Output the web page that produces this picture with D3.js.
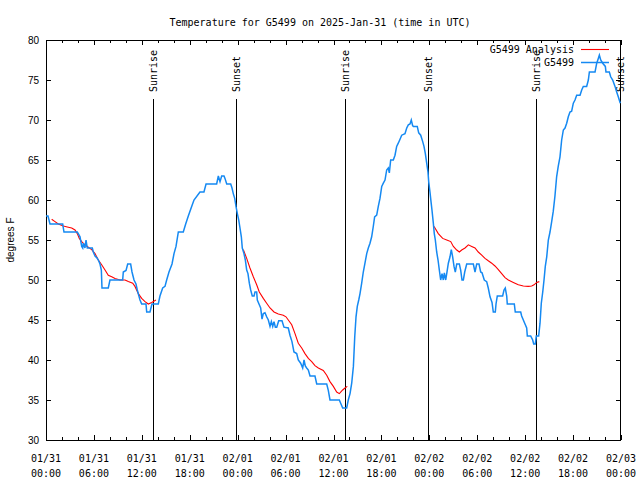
<!DOCTYPE html>
<html><head><meta charset="utf-8">
<script src="https://cdn.jsdelivr.net/npm/d3@7"></script>
<style>body{margin:0;background:#fff}svg{display:block}</style>
</head><body>
<script>
const title = "Temperature for G5499 on 2025-Jan-31 (time in UTC)";
const yLabel = "degrees F";
const startDate = Date.UTC(2025, 0, 31);
const endDate = Date.UTC(2025, 1, 3);
const yTicks = [30, 35, 40, 45, 50, 55, 60, 65, 70, 75, 80];
const seriesNames = ["G5499 Analysis", "G5499"];
// sun events, hours after 2025-01-31 00:00 UTC
const sunriseHours = [13.44, 37.44, 61.36];
const sunsetHours = [23.79, 47.83, 71.85];

// observed G5499 (hours after start, deg F)
const obsHours = [0,0.25,0.5,2.09,2.25,3.92,4.04,4.26,4.47,4.6,4.67,4.88,5.01,5.17,5.8,5.92,6.14,6.35,6.55,6.76,6.93,7.01,7.8,8.01,9.6,9.68,10.02,10.23,10.6,10.77,11.02,11.27,11.43,11.77,11.98,12.52,12.61,13.02,13.27,14.06,14.27,14.61,14.9,15.11,15.4,15.78,16.03,16.28,16.57,17.19,17.49,17.82,18.24,18.53,19.28,19.78,20.04,21.37,21.58,21.79,22.0,22.29,22.41,22.63,23.13,23.29,23.45,23.63,23.79,23.96,24.13,24.29,24.46,24.58,24.79,24.96,25.13,25.29,25.46,25.63,25.83,26.05,26.17,26.38,26.46,26.71,26.88,27.05,27.21,27.42,27.63,27.84,28.05,28.22,28.39,28.55,28.72,28.89,29.14,29.55,29.8,30.34,30.55,30.8,31.05,31.39,31.59,31.89,32.14,32.31,32.47,32.64,32.85,33.06,33.68,33.9,35.15,35.35,35.56,36.73,36.9,37.15,37.65,37.85,38.07,38.28,38.49,38.66,38.82,38.98,39.16,39.32,39.53,39.73,39.94,40.16,40.36,40.57,40.78,40.99,41.15,41.41,41.61,41.82,42.04,42.24,42.45,42.66,42.86,42.99,43.16,43.49,43.7,43.91,44.11,44.33,44.54,44.95,45.17,45.37,45.58,45.74,45.91,46.0,46.49,46.67,46.92,47.17,47.33,47.5,47.67,47.83,47.92,48.08,48.21,48.33,48.5,48.62,48.75,48.92,49.09,49.25,49.42,49.59,49.75,49.88,50.05,50.18,50.38,50.59,50.75,50.92,51.09,51.25,51.43,51.76,51.93,52.09,52.26,52.43,52.68,53.51,53.72,53.93,54.22,54.43,54.6,54.88,55.18,55.38,55.6,55.85,56.01,56.26,56.35,56.51,57.18,57.35,57.51,57.69,57.76,58.64,58.76,59.44,59.56,59.77,59.98,60.19,60.27,60.69,60.94,61.07,61.27,61.39,61.69,61.86,62.02,62.2,62.36,62.52,62.7,62.9,63.11,63.32,63.52,63.73,63.94,64.14,64.36,64.57,64.78,64.99,65.2,65.4,65.61,65.82,66.03,66.24,66.45,66.87,67.08,67.28,67.7,67.91,68.04,68.75,68.96,69.16,69.29,69.46,69.71,70.04,70.12,70.54,70.71,70.96,71.25,71.46,71.66,71.91];
const obsTemps = [58,58,57,57,56,56,55.8,55.4,54.2,54,54.6,54,55,54,54,53.5,53,52.8,52.5,52,51.25,49,49,50,50,51,51.2,52,52,51,50,49.5,48.75,47.5,47,47,46,46,47,47,48,49,49.2,50,51,52,53.3,54.2,56,56,57,58,59.2,60,61,61,62,62,63,62.3,63,63,62.7,62,62,61.5,60.8,60.2,59.2,58.3,57.5,56.5,55.4,54,53.3,52.5,51.25,50.8,49.6,48.75,48,48,48.5,48.5,47.5,46.9,46.5,45.1,45.8,45.9,45.4,45,44.2,44.8,44.2,44.8,44.1,44.1,44.9,44.9,44.1,44,43.1,42.3,41,40.8,40,39.6,39,40,39.25,39,38.75,38,38,37,37,36.2,35,35,34.6,34,34,35,35.8,37.1,39.2,42.9,45.4,46.7,47.5,48.3,49.6,51,52.1,53.3,54,54.6,55.4,56.75,57.9,58.1,59.2,60.2,61.7,62.1,62.5,63.75,64,63.4,65,65,65.6,66.7,67.1,67.6,68.1,68.3,69,69.4,69.5,70,69.3,69.2,69.2,68.4,68.1,67.3,66.7,65.8,64.6,63.5,62.3,61,59.8,58.75,57.1,55.8,55,53.5,52.5,51.25,50,50.8,50,50.9,50,50.8,52.1,52.9,53.8,52.9,51.7,51,52,52,51.2,50,50,51,52,52,51,52,52,51,50.9,50,49.8,49,47.9,47.2,46,46,47,48,48,48.75,49,48,47,47,46,46,45.5,45,44.5,44,43,43,42.5,42,42,43,43,44.6,47.1,48.5,50,51.7,52.9,55,56,57.3,58.6,60.5,62.9,64.2,65.4,67.5,68.75,69,69.6,70.4,71,71.1,72.1,72.5,73.1,73.1,73.75,74.2,74.2,75,76,76,77.1,77.7,78.1,77.5,77.1,76.7,76,76,75.4,75,74.2,73.5,72.9,72.1];

// analysis G5499 (null = gap between runs)
const anaHours = [0.71,1.13,1.54,2.17,2.79,3.22,3.63,3.92,4.17,4.47,4.88,5.30,5.72,6.14,6.55,6.97,7.39,7.80,8.23,8.64,9.27,9.89,10.31,10.86,11.14,11.56,11.98,12.40,12.81,13.24,13.77,
  null,
  24.71,25.13,25.54,25.96,26.38,26.71,27.21,27.63,28.05,28.55,29.09,29.71,30.05,30.34,30.77,31.18,31.59,32.02,32.43,32.85,33.27,33.68,34.10,34.72,35.15,35.56,35.98,36.4,36.73,37.15,37.44,37.73,
  null,
  48.62,48.71,49.12,49.67,50.18,50.68,51.01,51.43,51.76,52.05,52.47,52.89,53.31,53.72,54.13,54.56,54.97,55.38,55.81,56.22,56.64,57.06,57.48,57.89,58.52,59.14,59.77,60.39,60.82,61.11,61.44,61.77];
const anaTemps = [57.6,57.3,57,56.75,56.6,56.5,56.25,55.8,55.2,54.8,54.4,54.1,53.8,53.3,52.5,51.9,51.25,50.6,50.4,50.2,50,50,49.8,49.6,49.2,48.3,47.7,47.3,47,47.2,47.5,
  null,
  53.8,52.7,51.5,50.4,49.4,48.5,47.7,47.1,46.5,46,45.75,45.6,45.4,45,44.4,43.3,42.1,41.5,40.8,40.2,39.8,39.3,39,38.7,38.1,37.3,36.7,36,35.8,36.25,36.5,36.7,
  null,
  56.7,56.5,55.8,55.2,55,54.8,54.2,53.75,53.5,53.75,54,54.4,54.2,54,53.5,53.1,52.7,52.4,52.1,51.75,51.3,50.8,50.3,50,49.7,49.4,49.25,49.2,49.25,49.4,49.7,49.8];

const W = 640, H = 480;
const L = 46, R = 621, T = 40, B = 440;
const mono = "'DejaVu Sans Mono', monospace";
const sans = "'Liberation Sans', Arial, sans-serif";
const toDate = h => new Date(startDate + h * 3600000);

const svg = d3.select("body").append("svg").attr("width", W).attr("height", H);
const x = d3.scaleUtc().domain([new Date(startDate), new Date(endDate)]).range([L, R]);
const y = d3.scaleLinear().domain([30, 80]).range([B, T]);

// title
svg.append("text").attr("x", 320).attr("y", 26).attr("text-anchor", "middle")
  .style("font-family", mono).style("font-size", "10px").text(title);

// y label
svg.append("text").attr("transform", "translate(14,240) rotate(-90)").attr("text-anchor", "middle")
  .style("font-family", sans).style("font-size", "10px").text(yLabel);

// border
svg.append("rect").attr("x", L + 0.5).attr("y", T + 0.5).attr("width", R - L - 1).attr("height", B - T)
  .attr("fill", "none").attr("stroke", "#000").attr("stroke-width", 1).attr("shape-rendering", "crispEdges");

// y ticks (left & right, inward) and labels
const yg = svg.append("g").attr("shape-rendering", "crispEdges");
yTicks.forEach(v => {
  const yy = Math.round(y(v)) + 0.5;
  yg.append("line").attr("x1", L).attr("x2", L + 5).attr("y1", yy).attr("y2", yy).attr("stroke", "#000");
  yg.append("line").attr("x1", R - 5).attr("x2", R).attr("y1", yy).attr("y2", yy).attr("stroke", "#000");
  svg.append("text").attr("x", 39).attr("y", y(v) + 3.5).attr("text-anchor", "end")
    .style("font-family", sans).style("font-size", "10px").text(v);
});

// x ticks
const minor = d3.utcHour.every(2).range(new Date(startDate), new Date(endDate + 1));
minor.forEach(d => {
  const xx = Math.round(x(d)) + 0.5;
  const major = d.getUTCHours() % 6 === 0;
  const len = major ? 5 : 3;
  yg.append("line").attr("x1", xx).attr("x2", xx).attr("y1", B).attr("y2", B - len).attr("stroke", "#000");
  yg.append("line").attr("x1", xx).attr("x2", xx).attr("y1", T).attr("y2", T + len).attr("stroke", "#000");
  if (major) {
    const fd = d3.utcFormat("%m/%d"), ft = d3.utcFormat("%H:%M");
    const t = svg.append("text").attr("text-anchor", "middle")
      .style("font-family", mono).style("font-size", "10px");
    t.append("tspan").attr("x", x(d)).attr("y", 462).text(fd(d));
    t.append("tspan").attr("x", x(d)).attr("y", 477).text(ft(d));
  }
});

// sunrise/sunset lines
const sunEvents = sunriseHours.map(h => ({h, name: "Sunrise"}))
  .concat(sunsetHours.map(h => ({h, name: "Sunset"})));
sunEvents.forEach(e => {
  const xx = Math.round(x(toDate(e.h))) + 0.5;
  svg.append("line").attr("x1", xx).attr("x2", xx).attr("y1", 99).attr("y2", B)
    .attr("stroke", "#000").attr("stroke-width", 1).attr("shape-rendering", "crispEdges");
  svg.append("text").attr("transform", `translate(${xx + 3.5},92) rotate(-90)`)
    .attr("text-anchor", "start")
    .style("font-family", mono).style("font-size", "10px").text(e.name);
});

// lines
const obs = obsHours.map((h, i) => ({d: toDate(h), v: obsTemps[i]}));
const ana = anaHours.map((h, i) => ({d: h == null ? null : toDate(h), v: anaTemps[i]}));
const line = d3.line().defined(p => p.d != null && p.v != null).x(p => x(p.d)).y(p => y(p.v));

svg.append("path").datum(ana).attr("d", line).attr("fill", "none")
  .attr("stroke", "#ff0000").attr("stroke-width", 1.1);
svg.append("path").datum(obs).attr("d", line).attr("fill", "none")
  .attr("stroke", "#1589f2").attr("stroke-width", 1.5).attr("stroke-linejoin", "miter");

// legend
const legColors = ["#ff0000", "#1589f2"];
seriesNames.forEach((n, i) => {
  const ly = 49.5 + i * 13;
  svg.append("text").attr("x", 574).attr("y", ly + 3.5).attr("text-anchor", "end")
    .style("font-family", mono).style("font-size", "10px").text(n);
  svg.append("line").attr("x1", 581).attr("x2", 609).attr("y1", ly).attr("y2", ly)
    .attr("stroke", legColors[i]).attr("stroke-width", i ? 1.5 : 1.1);
});
</script>
</body></html>
